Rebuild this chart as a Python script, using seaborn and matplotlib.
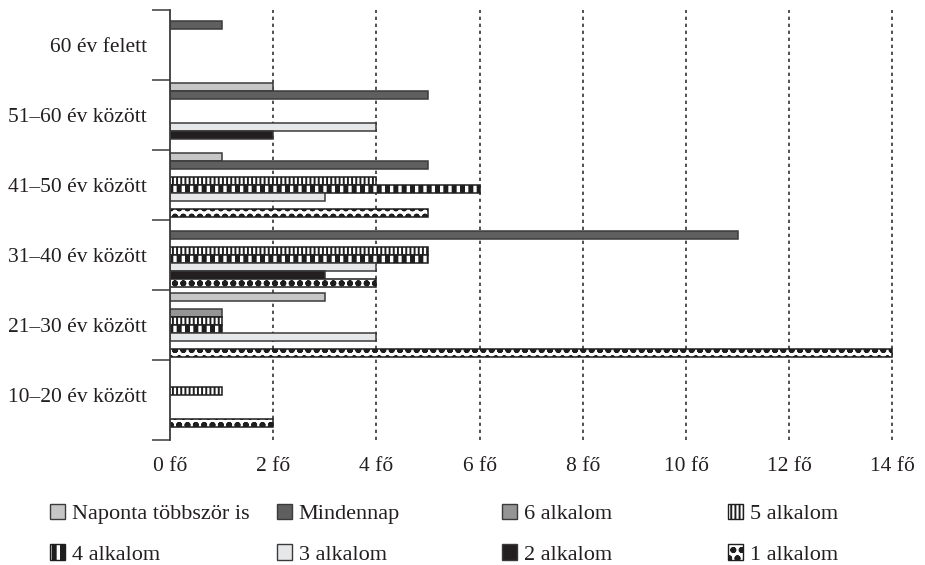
import matplotlib
matplotlib.use("Agg")
import matplotlib.pyplot as plt
from matplotlib.patches import Patch
import seaborn as sns
import pandas as pd
import numpy as np

# ---- data ----
ages = ['60 év felett', '51–60 év között', '41–50 év között',
        '31–40 év között', '21–30 év között', '10–20 év között']
freqs = ['Naponta többször is', 'Mindennap', '6 alkalom', '5 alkalom',
         '4 alkalom', '3 alkalom', '2 alkalom', '1 alkalom']
naponta = [0, 2, 1, 0, 3, 0]
mindennap = [1, 5, 5, 11, 0, 0]
alk6 = [0, 0, 0, 0, 1, 0]
alk5 = [0, 0, 4, 5, 1, 1]
alk4 = [0, 0, 6, 5, 1, 0]
alk3 = [0, 4, 3, 4, 4, 0]
alk2 = [0, 2, 0, 3, 0, 0]
alk1 = [0, 0, 5, 4, 14, 2]
xticks_vals = [0, 2, 4, 6, 8, 10, 12, 14]
xtick_labels = ['0 fő', '2 fő', '4 fő', '6 fő', '8 fő', '10 fő', '12 fő', '14 fő']

series = [naponta, mindennap, alk6, alk5, alk4, alk3, alk2, alk1]
rows = []
for f, vals in zip(freqs, series):
    for a, v in zip(ages, vals):
        if v > 0:
            rows.append({'age': a, 'freq': f, 'count': v})
df = pd.DataFrame(rows)

# ---- styles ----
EDGE = '#3a3a3a'
styles = {
    'Naponta többször is': dict(fc='#c6c6c6', hatch=None, hlw=None),
    'Mindennap': dict(fc='#5f5f5f', hatch=None, hlw=None),
    '6 alkalom': dict(fc='#959595', hatch=None, hlw=None),
    '5 alkalom': dict(fc='white', hatch='||||', hlw=1.4),
    '4 alkalom': dict(fc='white', hatch='||', hlw=3.6),
    '3 alkalom': dict(fc='#e6e7e8', hatch=None, hlw=None),
    '2 alkalom': dict(fc='#231f20', hatch=None, hlw=None),
    '1 alkalom': dict(fc='white', hatch='oo', hlw=1.9),
}
palette = {f: styles[f]['fc'] for f in freqs}

sns.set_style('white')
plt.rcParams['font.family'] = ['Liberation Serif', 'DejaVu Serif']
plt.rcParams['hatch.linewidth'] = 1.4
FS = 15.5
LFS = 16

fig = plt.figure(figsize=(9.25, 5.65), dpi=100)
W, H = 925, 565
x0, x1 = 170, 170 + 14.05 * 51.6
y_top, y_bot = 10, 440
ax = fig.add_axes([x0 / W, 1 - y_bot / H, (x1 - x0) / W, (y_bot - y_top) / H])

WIDTH = 0.914
sns.barplot(data=df, y='age', x='count', hue='freq', order=ages, hue_order=freqs,
            orient='h', width=WIDTH, gap=0.06, palette=palette, saturation=1,
            edgecolor=EDGE, linewidth=1.1, errorbar=None, legend=False, ax=ax)

slot = WIDTH / len(freqs)
for p in ax.patches:
    yc = p.get_y() + p.get_height() / 2
    off = yc - round(yc)
    idx = int(round((off + WIDTH / 2) / slot - 0.5))
    idx = min(max(idx, 0), len(freqs) - 1)
    st = styles[freqs[idx]]
    if st['hatch']:
        p.set_hatch(st['hatch'])
        p.set_edgecolor('#1e1e1e')
        if hasattr(p, 'set_hatch_linewidth'):
            p.set_hatch_linewidth(st['hlw'])

ax.set_xlim(0, 14.05)
ax.set_ylim(5.5 + 10 / 70, -0.5)
ax.set_xticks(xticks_vals)
ax.set_xticklabels(xtick_labels, fontsize=FS, color='#231f20')
ax.set_yticks(range(len(ages)))
ax.set_yticklabels(ages, fontsize=FS, color='#231f20')
ax.set_yticks([-0.5, 0.5, 1.5, 2.5, 3.5, 4.5, 5.5 + 10 / 70], minor=True)
ax.tick_params(axis='y', which='major', left=True, length=0, pad=16.5)
ax.tick_params(axis='y', which='minor', left=True, length=13, width=1.1,
               color=EDGE, direction='out')
ax.tick_params(axis='x', which='major', bottom=True, length=0, pad=12)
ax.set_xlabel('')
ax.set_ylabel('')
for s in ['top', 'right', 'bottom']:
    ax.spines[s].set_visible(False)
ax.spines['left'].set_color(EDGE)
ax.spines['left'].set_linewidth(1.3)
ax.grid(False)
for xv in xticks_vals[1:]:
    ax.axvline(xv, color='#333333', linewidth=1.2, linestyle=(0, (2, 2.2)), zorder=0)

# ---- legend: four columns placed at fixed positions ----
def handle(f):
    st = styles[f]
    ec = '#1e1e1e' if st['hatch'] else EDGE
    return Patch(facecolor=st['fc'], edgecolor=ec, hatch=st['hatch'], linewidth=1.0)

cols_x = [50, 277, 502, 728]
for c in range(4):
    fs = [freqs[c], freqs[c + 4]]
    leg = fig.legend([handle(f) for f in fs], fs, loc='upper left',
                     bbox_to_anchor=(cols_x[c] / W, 1 - 504 / H), frameon=False,
                     borderpad=0, borderaxespad=0, handlelength=0.68, handleheight=0.68,
                     handletextpad=0.3, labelspacing=0.9, fontsize=LFS,
                     labelcolor='#231f20')
    for f, p in zip(fs, leg.get_patches()):
        st = styles[f]
        if st['hatch'] and hasattr(p, 'set_hatch_linewidth'):
            p.set_hatch_linewidth(st['hlw'])

fig.savefig('out.png', dpi=100)
